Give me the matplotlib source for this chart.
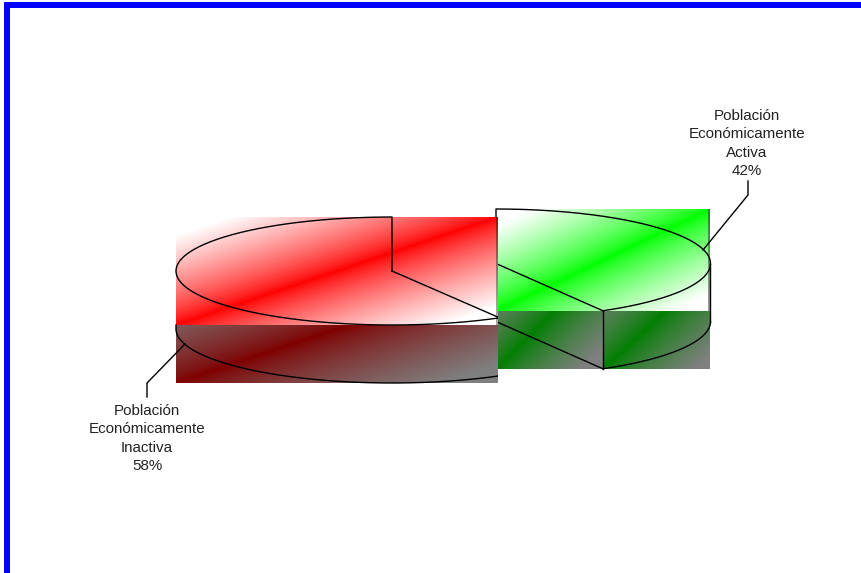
import numpy as np
import matplotlib
matplotlib.use("Agg")
import matplotlib.pyplot as plt
from matplotlib.patches import Rectangle

plt.rcParams['font.family'] = ['Liberation Sans', 'DejaVu Sans']

# Slice shares (labels show them rounded)
slice_names = ["Población\nEconómicamente\nActiva\n42%", "Población\nEconómicamente\nInactiva\n58%"]
slice_shares = [41.7, 58.3]
top_colors = [(0, 255, 0), (255, 0, 0)]

W, H = 862, 573
RX, RY, DEPTH = 215, 54.5, 58
LINE = dict(color="black", lw=1.0, solid_joinstyle="round", zorder=3)


def gradient(box, start, slope, reach, color, dim=1.0):
    # Diagonal band of pure colour fading to white on both sides
    x0, x1, y0, y1 = box
    xx, yy = np.meshgrid(np.arange(x0, x1) + 0.5, np.arange(y0, y1) + 0.5)
    line_y = start[1] - slope * (xx - start[0])
    t = np.clip(np.abs(yy - line_y) / reach, 0, 1)[..., np.newaxis] ** 0.8
    img = (np.array(color) * (1 - t) + 255 * t) * dim
    return img.astype(np.uint8), box


def show(ax, grad, z=1, edge=None):
    img, (x0, x1, y0, y1) = grad
    if edge is not None:
        # thin darker strip on the right edge of the picture
        img = img.copy()
        img[:, -2:] = (img[:, -2:] * edge).astype(np.uint8)
    ax.imshow(img, extent=(x0, x1, y1, y0), interpolation="nearest", aspect="auto", zorder=z)


def rim(cx, cy, a0, a1, rx=RX, ry=RY):
    # Points of the pie rim, angles clockwise from twelve o'clock
    a = np.radians(np.linspace(a0, a1, 200))
    return cx + rx * np.sin(a), cy - ry * np.cos(a)


fig = plt.figure(figsize=(W / 100, H / 100), dpi=100)
ax = fig.add_axes([0, 0, 1, 1])

split = 360 * slice_shares[0] / sum(slice_shares)
dark = 0.5

# Green slice (pulled out to the right)
gx, gy = 496, 263.5
green = top_colors[0]
show(ax, gradient((496, 710, 209, 311), (496, 311), 0.475, 85, green), z=1, edge=0.6)
show(ax, gradient((496, 603, 311, 369), (496, 369), 0.98, 85, green, dark), z=1)
show(ax, gradient((603, 710, 311, 369), (603, 369), 0.92, 85, green, dark), z=1)

x, y = rim(gx, gy, 0, split, rx=214.5)
ax.plot(np.r_[gx, x, gx], np.r_[gy, y, gy], **LINE)
ax.plot(x[-1:].repeat(2), [y[-1], y[-1] + DEPTH], **LINE)
ax.plot([gx, x[-1]], [gy + DEPTH, y[-1] + DEPTH], **LINE)
ax.plot([gx + 214.5, gx + 214.5], [gy, gy + DEPTH], **LINE)
x, y = rim(gx, gy + DEPTH, split, 90, rx=214.5)
ax.plot(x, y, **LINE)

# Red slice, its picture covers the left end of the green one
rx_c, ry_c = 392, 271
red = top_colors[1]
show(ax, gradient((176, 498, 217, 325), (176, 325), 0.335, 90, red), z=4, edge=0.65)
show(ax, gradient((176, 498, 325, 383), (176, 383), 0.335, 90, red, dark), z=4)

clip = Rectangle((170, 200), 328.5, 200, transform=ax.transData)
red_line = dict(LINE, zorder=5)
x, y = rim(rx_c, ry_c, split, 360, rx=216, ry=54)
top_line, = ax.plot(np.r_[rx_c, x, rx_c], np.r_[ry_c, y, ry_c], **red_line)
# the outer wall only shows below the top face
x, y = rim(rx_c, ry_c + DEPTH, split, 270, rx=216, ry=54)
low_line, = ax.plot(np.r_[x, x[-1]], np.r_[y, 325], **red_line)
top_line.set_clip_path(clip)
low_line.set_clip_path(clip)

# Leader lines and labels
ax.plot([703, 748, 748], [250, 195, 181], **LINE)
ax.plot([185, 147, 147], [344, 383, 397], **red_line)
ax.text(747, 143.5, slice_names[0], ha="center", va="center", fontsize=10.9, linespacing=1.39, color="#222222", zorder=6)
ax.text(147, 438.5, slice_names[1], ha="center", va="center", fontsize=10.9, linespacing=1.39, color="#222222", zorder=6)

# Blue frame on the top and left only
ax.add_patch(Rectangle((4, 2), W - 4, 6, color="#0000ff", lw=0, zorder=7))
ax.add_patch(Rectangle((4, 2), 6, H - 2, color="#0000ff", lw=0, zorder=7))

ax.set_xlim(0, W)
ax.set_ylim(H, 0)
ax.axis("off")
fig.savefig("out.png", dpi=100, facecolor="white")
